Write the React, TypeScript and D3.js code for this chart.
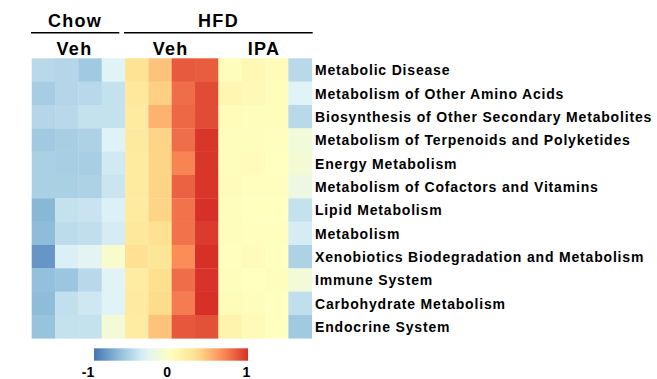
import React from "react";
import * as d3 from "d3";

const pathways = [
  "Metabolic Disease",
  "Metabolism of Other Amino Acids",
  "Biosynthesis of Other Secondary Metabolites",
  "Metabolism of Terpenoids and Polyketides",
  "Energy Metabolism",
  "Metabolism of Cofactors and Vitamins",
  "Lipid Metabolism",
  "Metabolism",
  "Xenobiotics Biodegradation and Metabolism",
  "Immune System",
  "Carbohydrate Metabolism",
  "Endocrine System",
];

const samples = ["C1", "C2", "C3", "C4", "V1", "V2", "V3", "V4", "I1", "I2", "I3", "I4"];

// z-scores per pathway (rows) x sample (columns)
const chowVeh = [
  [-0.5, -0.52, -0.6, -0.33],
  [-0.58, -0.52, -0.5, -0.45],
  [-0.52, -0.5, -0.45, -0.45],
  [-0.6, -0.57, -0.55, -0.34],
  [-0.56, -0.57, -0.57, -0.4],
  [-0.56, -0.56, -0.55, -0.42],
  [-0.7, -0.45, -0.43, -0.35],
  [-0.68, -0.48, -0.47, -0.38],
  [-0.85, -0.36, -0.3, -0.08],
  [-0.66, -0.62, -0.5, -0.32],
  [-0.68, -0.46, -0.41, -0.33],
  [-0.64, -0.45, -0.45, -0.13],
];
const hfdVeh = [
  [0.3, 0.45, 0.85, 0.84],
  [0.25, 0.4, 0.78, 0.9],
  [0.22, 0.52, 0.8, 0.9],
  [0.23, 0.38, 0.78, 0.98],
  [0.22, 0.38, 0.7, 0.98],
  [0.22, 0.38, 0.82, 0.98],
  [0.22, 0.38, 0.76, 1.0],
  [0.25, 0.32, 0.76, 0.96],
  [0.32, 0.27, 0.67, 1.0],
  [0.2, 0.33, 0.78, 0.99],
  [0.22, 0.35, 0.73, 1.0],
  [0.2, 0.45, 0.86, 0.88],
];
const hfdIpa = [
  [0.02, 0.08, 0.03, -0.5],
  [0.1, 0.06, 0.02, -0.33],
  [0.04, 0.02, 0.02, -0.5],
  [0.02, 0.02, 0.01, -0.15],
  [0.02, 0.03, 0.0, -0.12],
  [0.03, 0.01, 0.01, -0.2],
  [0.02, 0.0, 0.0, -0.45],
  [0.02, 0.01, 0.01, -0.38],
  [0.01, 0.03, 0.0, -0.55],
  [0.02, 0.0, 0.02, -0.14],
  [0.04, 0.02, 0.0, -0.47],
  [0.12, 0.05, 0.0, -0.6],
];

const legendTicks = [-1, 0, 1];
const paletteStops = [-1, -2 / 3, -1 / 3, 0, 1 / 3, 2 / 3, 1];
const paletteColors = ["#4575b4", "#91bfdb", "#e0f3f8", "#ffffbf", "#fee090", "#fc8d59", "#d73027"];

const font = "'Liberation Sans', Arial, Helvetica, sans-serif";

export default function App() {
  const W = 657;
  const H = 379;
  const color = d3.scaleLinear<string>().domain(paletteStops).range(paletteColors).interpolate(d3.interpolateRgb).clamp(true);

  const x = d3.scaleBand<string>().domain(samples).range([31.7, 311.7]).padding(0);
  const y = d3.scaleBand<string>().domain(pathways).range([58.3, 338.3]).padding(0);

  const rows = pathways.map((p, i) => [...chowVeh[i], ...hfdVeh[i], ...hfdIpa[i]]);

  const cells: React.ReactNode[] = [];
  rows.forEach((vals, i) => {
    vals.forEach((v, j) => {
      cells.push(
        <rect
          key={`${i}-${j}`}
          x={x(samples[j])}
          y={y(pathways[i])}
          width={x.bandwidth() + 0.3}
          height={y.bandwidth() + 0.3}
          fill={color(v)}
        />
      );
    });
  });

  const groupCenter = (a: string, b: string) => ((x(a) as number) + (x(b) as number) + x.bandwidth()) / 2;

  const legX = d3.scaleLinear().domain([-1, 1]).range([94, 248]);
  const legLabelX = d3.scaleLinear().domain([-1, 1]).range([88, 246.5]);
  const gradStops = d3.range(0, 1.0001, 0.05);

  return (
    <svg width={W} height={H} style={{ position: "absolute", left: 0, top: 0, background: "#fff" }}>
      <defs>
        <linearGradient id="leg" x1="0" x2="1" y1="0" y2="0">
          {gradStops.map((t) => (
            <stop key={t} offset={t} stopColor={color(-1 + 2 * t)} />
          ))}
        </linearGradient>
      </defs>
      <g>{cells}</g>
      {/* group headers */}
      <g fontFamily={font} fontWeight="bold" fill="#000" letterSpacing={1.3}>
        <text x={75} y={27} fontSize={18} textAnchor="middle">Chow</text>
        <text x={218.5} y={27} fontSize={18} textAnchor="middle">HFD</text>
        <line x1={31} x2={119.3} y1={32.7} y2={32.7} stroke="#000" strokeWidth={1.6} />
        <line x1={124} x2={312.7} y1={32.7} y2={32.7} stroke="#000" strokeWidth={1.6} />
        <text x={74.5} y={55} fontSize={18} textAnchor="middle">Veh</text>
        <text x={groupCenter("V1", "V4") - 1} y={55} fontSize={18} textAnchor="middle">Veh</text>
        <text x={groupCenter("I1", "I4") - 1} y={55} fontSize={18} textAnchor="middle">IPA</text>
      </g>
      {/* row labels */}
      <g fontFamily={font} fontWeight="bold" fontSize={14} fill="#000" letterSpacing={0.82}>
        {pathways.map((p) => (
          <text key={p} x={315} y={(y(p) as number) + y.bandwidth() / 2 + 5.3}>
            {p}
          </text>
        ))}
      </g>
      {/* legend */}
      <rect x={legX(-1)} y={348.3} width={legX(1) - legX(-1)} height={12.4} fill="url(#leg)" />
      <g fontFamily={font} fontWeight="bold" fontSize={14} fill="#000">
        {legendTicks.map((t) => (
          <text key={t} x={legLabelX(t)} y={376.5} textAnchor="middle">
            {t}
          </text>
        ))}
      </g>
    </svg>
  );
}
